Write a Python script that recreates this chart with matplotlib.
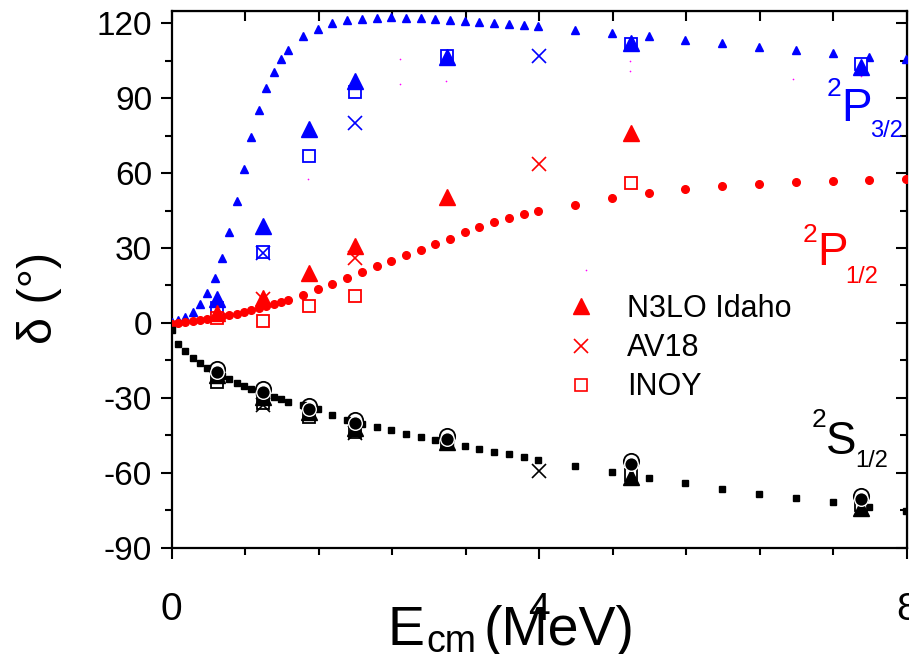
import matplotlib
matplotlib.use("Agg")
import matplotlib.pyplot as plt
from matplotlib.lines import Line2D
from matplotlib.ticker import MultipleLocator

plt.rcParams["axes.unicode_minus"] = False
SANS = "Liberation Sans"

# energy grid of the phase-shift curves (MeV)
e_curve = [0.01, 0.07, 0.15, 0.23, 0.31, 0.39, 0.47, 0.55, 0.63, 0.71, 0.79, 0.87,
           0.95, 1.03, 1.11, 1.19, 1.27, 1.43, 1.59, 1.75, 1.91, 2.07, 2.23, 2.39,
           2.55, 2.71, 2.87, 3.03, 3.19, 3.35, 3.51, 3.67, 3.83, 3.99, 4.39, 4.79,
           5.19, 5.59, 5.99, 6.39, 6.79, 7.19, 7.59, 7.99]
p32_curve = [0.4, 1.1, 2.3, 4.4, 7.6, 12.1, 18.0, 26.1, 36.5, 49.0, 61.6, 74.3,
             85.2, 93.9, 100.6, 105.5, 109.4, 114.8, 117.8, 120.0, 121.2, 121.8, 122.2, 122.4,
             122.2, 122.0, 121.6, 121.2, 121.0, 120.6, 120.2, 119.8, 119.3, 118.8, 117.4, 116.1,
             114.8, 113.3, 112.0, 110.4, 109.1, 107.9, 106.6, 105.5]
p12_curve = [-0.3, 0.1, 0.4, 0.8, 1.2, 1.6, 2.1, 2.7, 3.2, 3.7, 4.5, 5.2,
             6.0, 6.7, 7.6, 8.4, 9.3, 11.3, 13.5, 15.6, 17.9, 20.2, 22.6, 24.8,
             27.1, 29.3, 31.5, 33.5, 36.5, 38.5, 40.3, 42.0, 43.6, 45.0, 47.3, 50.2,
             52.0, 53.6, 54.9, 55.8, 56.6, 57.0, 57.4, 57.7]
s12_curve = [-2.9, -8.3, -11.3, -13.9, -16.2, -17.9, -19.6, -21.1, -22.6, -24.0, -25.3, -26.3,
             -27.6, -28.7, -29.7, -30.6, -31.7, -33.0, -34.6, -36.8, -38.9, -40.3, -41.6, -43.0,
             -44.4, -45.7, -46.9, -48.1, -49.3, -50.6, -51.7, -52.6, -53.8, -54.9, -57.4, -59.7,
             -62.0, -64.1, -66.3, -68.3, -70.1, -71.9, -73.6, -75.3]

# N3LO Idaho
e_n3lo = [0.5, 1.0, 1.5, 2.0, 3.0, 5.0, 7.5]
n3lo_p32 = [9.5, 38.9, 77.6, 96.7, 106.3, 112.1, 102.3]
e_n3lo_p12 = [0.5, 1.0, 1.5, 2.0, 3.0, 5.0]
n3lo_p12 = [4.1, 9.9, 19.8, 30.9, 50.5, 76.0]
n3lo_s12 = [-21.0, -29.5, -35.5, -42.0, -47.5, -61.5, -74.0]

# AV18
e_av18 = [1.0, 2.0, 4.0]
av18_p32 = [27.8, 80.0, 106.7]
av18_p12 = [9.5, 25.9, 63.6]
av18_s12 = [-33.0, -44.0, -59.3]

# INOY
e_inoy = [0.5, 1.0, 1.5, 2.0, 3.0, 5.0, 7.5]
inoy_p32 = [5.9, 28.2, 66.9, 92.3, 106.8, 111.7, 103.7]
e_inoy_p12 = [0.5, 1.0, 1.5, 2.0, 5.0]
inoy_p12 = [2.0, 0.8, 6.7, 10.7, 56.2]
inoy_s12 = [-23.5, -32.0, -37.5, -43.5, -48.5, -61.0, -73.0]

# further 2S1/2 results (filled / open circles)
e_circ = [0.5, 1.0, 1.5, 2.0, 3.0, 5.0, 7.5]
circ_fill = [-19.6, -27.5, -34.3, -39.9, -46.6, -56.6, -70.7]
circ_open = [-18.4, -26.3, -33.1, -38.7, -45.4, -55.4, -69.5]

# faint magenta points
e_dots = [1.49, 1.49, 2.49, 2.49, 2.99, 4.99, 4.99, 6.76, 7.5, 4.51]
d_dots = [74.9, 57.6, 105.7, 95.7, 97.0, 104.7, 101.0, 97.7, 98.9, 21.1]

BLUE = "#0000ff"
RED = "#ff0000"

fig = plt.figure(figsize=(9.09, 6.54), dpi=100)
ax = fig.add_axes([171.5 / 909, 1 - 547.7 / 654, 735.5 / 909, 537 / 654])

# calculated curves
ax.plot(e_curve, p32_curve, ls="none", marker="^", ms=5.5, color=BLUE, mec=BLUE, zorder=3)
ax.plot(e_curve, p12_curve, ls="none", marker="o", ms=5.5, color=RED, mec=RED, zorder=3)
ax.plot(e_curve, s12_curve, ls="none", marker="s", ms=5.0, color="black", mec="black", zorder=3)
ax.plot(e_dots, d_dots, ls="none", marker="o", ms=1.2, color="#ff00ff", mew=0, zorder=2)

# open squares: INOY
ax.plot(e_inoy, inoy_p32, ls="none", marker="s", ms=8.5, mfc="white", mec=BLUE, mew=1.3, zorder=4)
ax.plot(e_inoy_p12, inoy_p12, ls="none", marker="s", ms=8.5, mfc="white", mec=RED, mew=1.3, zorder=4)
ax.plot(e_inoy, inoy_s12, ls="none", marker="s", ms=8.5, mfc="white", mec="black", mew=1.3, zorder=4)

# crosses: AV18
ax.plot(e_av18, av18_p32, ls="none", marker="x", ms=10, mec=BLUE, mew=1.2, zorder=5)
ax.plot(e_av18, av18_p12, ls="none", marker="x", ms=10, mec=RED, mew=1.2, zorder=5)
ax.plot(e_av18, av18_s12, ls="none", marker="x", ms=10, mec="black", mew=1.2, zorder=5)

# big triangles: N3LO Idaho
ax.plot(e_n3lo, n3lo_p32, ls="none", marker="^", ms=11, color=BLUE, mec=BLUE, zorder=6)
ax.plot(e_n3lo_p12, n3lo_p12, ls="none", marker="^", ms=11, color=RED, mec=RED, zorder=6)
ax.plot(e_n3lo, n3lo_s12, ls="none", marker="^", ms=11, color="black", mec="black", zorder=6)

# circles on the 2S1/2 channel
ax.plot(e_circ, circ_open, ls="none", marker="o", ms=11, mfc="none", mec="black", mew=1.3, zorder=7)
ax.plot(e_circ, circ_fill, ls="none", marker="o", ms=9.8, color="black", mec="white", mew=1.0, zorder=8)

ax.set_xlim(0, 8)
ax.set_ylim(-90, 125)
ax.xaxis.set_major_locator(MultipleLocator(4))
ax.xaxis.set_minor_locator(MultipleLocator(0.8))
ax.yaxis.set_major_locator(MultipleLocator(30))
ax.yaxis.set_minor_locator(MultipleLocator(15))

for sp in ax.spines.values():
    sp.set_linewidth(1.6)
ax.tick_params(which="both", direction="out", width=1.5, top=False, right=False)
ax.tick_params(which="major", length=8)
ax.tick_params(which="minor", length=5)
ax.tick_params(axis="y", labelsize=24, pad=6)
ax.tick_params(axis="x", labelsize=28, pad=24)
for lab in ax.get_yticklabels() + ax.get_xticklabels():
    lab.set_fontfamily(SANS)

# inward ticks on the top and right frame
ax2 = ax.secondary_xaxis("top")
ax2.xaxis.set_major_locator(MultipleLocator(0.8))
ax2.tick_params(direction="in", length=7, width=1.5, labeltop=False)
ax3 = ax.secondary_yaxis("right")
ax3.yaxis.set_major_locator(MultipleLocator(30))
ax3.yaxis.set_minor_locator(MultipleLocator(15))
ax3.tick_params(which="major", direction="in", length=8, width=1.5, labelright=False)
ax3.tick_params(which="minor", direction="in", length=5, width=1.5)

# axis titles
fig.text(388 / 909, 1 - 645 / 654, "E", fontsize=40, family=SANS, ha="left", va="baseline")
fig.text(426 / 909, 1 - 652 / 654, "cm", fontsize=27, family=SANS, ha="left", va="baseline")
fig.text(484 / 909, 1 - 645 / 654, "(MeV)", fontsize=40, family=SANS, ha="left", va="baseline")
fig.text(40 / 909, 1 - 298 / 654, "\u03b4 (\u00b0)", fontsize=35, family=SANS,
         rotation=90, ha="center", va="center")

# state labels
ax.text(7.13, 91, "2", color=BLUE, fontsize=19, family=SANS, va="baseline")
ax.text(7.29, 81, "P", color=BLUE, fontsize=33, family=SANS, va="baseline")
ax.text(7.60, 74.3, "3/2", color=BLUE, fontsize=17, family=SANS, va="baseline")
ax.text(6.86, 32.3, "2", color=RED, fontsize=19, family=SANS, va="baseline")
ax.text(7.02, 23, "P", color=RED, fontsize=33, family=SANS, va="baseline")
ax.text(7.33, 15.9, "1/2", color=RED, fontsize=17, family=SANS, va="baseline")
ax.text(6.96, -41.6, "2", color="black", fontsize=19, family=SANS, va="baseline")
ax.text(7.12, -52.3, "S", color="black", fontsize=33, family=SANS, va="baseline")
ax.text(7.44, -57.6, "1/2", color="black", fontsize=17, family=SANS, va="baseline")

handles = [
    Line2D([], [], ls="none", marker="^", ms=11, color=RED),
    Line2D([], [], ls="none", marker="x", ms=10, mec=RED, mew=1.2),
    Line2D([], [], ls="none", marker="s", ms=8.5, mfc="white", mec=RED, mew=1.2),
]
ax.legend(handles, ["N3LO Idaho", "AV18", "INOY"], frameon=False,
          prop={"family": SANS, "size": 22}, loc="upper left",
          bbox_to_anchor=(0.52, 0.495), handlelength=1.0, handletextpad=1.0,
          labelspacing=0.3, borderaxespad=0)

fig.savefig("out.png", dpi=100)
